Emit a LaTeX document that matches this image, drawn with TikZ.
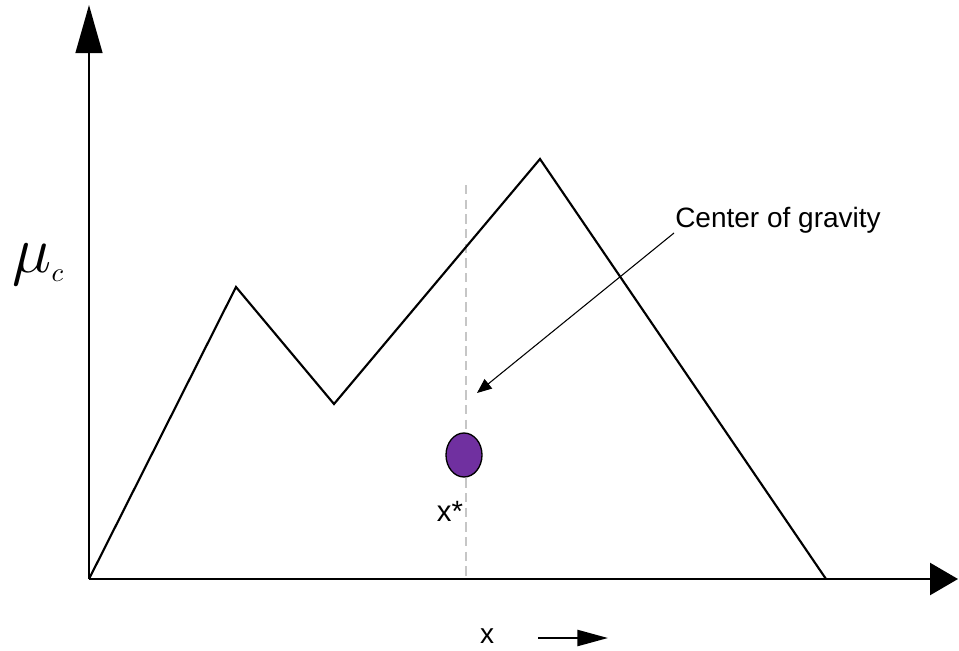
\documentclass[tikz,border=0pt]{standalone}
\usepackage{fontspec}
\setmainfont{Liberation Sans}
\usetikzlibrary{arrows.meta,shapes.geometric}
\definecolor{dotpurple}{HTML}{7030A0}
\tikzset{
  curve/.style={line width=1.6pt, line join=miter},
  axis/.style={line width=1.8pt},
  lbl/.style={font=\fontsize{21}{25}\selectfont, inner sep=0pt},
}
\begin{document}
\begin{tikzpicture}[x=0.75pt, y=-0.75pt]
\useasboundingbox (0,0) rectangle (959,650);
% key points
\coordinate (O) at (89,579);
\coordinate (ytip) at (89,5);
\coordinate (xtip) at (958,579);
\coordinate (p1) at (236,287);
\coordinate (p2) at (334,404);
\coordinate (p3) at (540,159);
\coordinate (p4) at (826,579);
\coordinate (dtop) at (466,185);
\coordinate (dbot) at (466,579);
% dashed line
\draw[gray!45, line width=1.2pt, dash pattern=on 7pt off 4pt] (dtop) -- (dbot);
% mountain
\draw[curve] (O) -- (p1) -- (p2) -- (p3) -- (p4);
% axes
\draw[axis, -{Triangle[length=36pt, width=20pt]}] (O) -- (ytip);
\draw[axis, -{Triangle[length=21pt, width=24pt]}] (O) -- (xtip);
% centre of gravity dot
\node[ellipse, draw=black, line width=1pt, fill=dotpurple, minimum width=27pt, minimum height=33pt, inner sep=0pt] (cg) at (464,455) {};
\node[lbl, font=\fontsize{22}{26}\selectfont] (xstar) at (450,511) {x*};
% annotation
\node[lbl, anchor=west] (cgtext) at (675,220) {Center of gravity};
\coordinate (cgstart) at (674,233);
\coordinate (cgtip) at (477,393);
\draw[line width=0.8pt, -{Triangle[length=11pt, width=9pt]}] (cgstart) -- (cgtip);
% y label
\node[inner sep=0pt, anchor=base west, scale=2] (ylab) at (12,272) {\fontsize{24.88}{28}\selectfont$\mu_{\hbox{\fontsize{10}{10}\selectfont$c$}}$};
% x label with arrow
\node[lbl] (xl) at (487,636) {x};
\coordinate (xa1) at (538,638);
\coordinate (xa2) at (608,638);
\draw[line width=1.8pt, -{Triangle[length=23pt, width=12pt]}] (xa1) -- (xa2);
\end{tikzpicture}
\end{document}
